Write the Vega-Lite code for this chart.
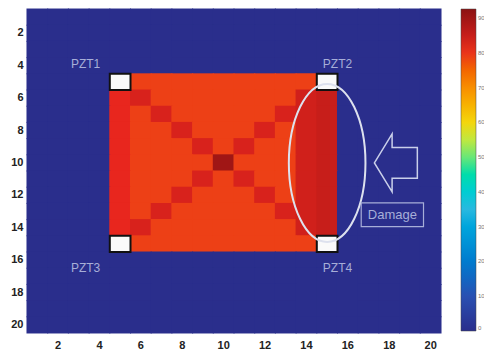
{
  "$schema": "https://vega.github.io/schema/vega-lite/v6.json",
  "width": 414,
  "height": 324,
  "autosize": {"type": "none"},
  "padding": {"left": 27, "top": 9, "right": 43, "bottom": 23},
  "config": {"view": {"stroke": null}},
  "resolve": {"scale": {"x": "independent", "y": "independent"}},
  "layer": [
    {
      "layer": [
        {
          "data": {"values": [
{"c":1,"r":1,"v":0},{"c":2,"r":1,"v":0},{"c":3,"r":1,"v":0},{"c":4,"r":1,"v":0},{"c":5,"r":1,"v":0},{"c":6,"r":1,"v":0},{"c":7,"r":1,"v":0},{"c":8,"r":1,"v":0},{"c":9,"r":1,"v":0},{"c":10,"r":1,"v":0},{"c":11,"r":1,"v":0},{"c":12,"r":1,"v":0},{"c":13,"r":1,"v":0},{"c":14,"r":1,"v":0},{"c":15,"r":1,"v":0},{"c":16,"r":1,"v":0},{"c":17,"r":1,"v":0},{"c":18,"r":1,"v":0},{"c":19,"r":1,"v":0},{"c":20,"r":1,"v":0},
{"c":1,"r":2,"v":0},{"c":2,"r":2,"v":0},{"c":3,"r":2,"v":0},{"c":4,"r":2,"v":0},{"c":5,"r":2,"v":0},{"c":6,"r":2,"v":0},{"c":7,"r":2,"v":0},{"c":8,"r":2,"v":0},{"c":9,"r":2,"v":0},{"c":10,"r":2,"v":0},{"c":11,"r":2,"v":0},{"c":12,"r":2,"v":0},{"c":13,"r":2,"v":0},{"c":14,"r":2,"v":0},{"c":15,"r":2,"v":0},{"c":16,"r":2,"v":0},{"c":17,"r":2,"v":0},{"c":18,"r":2,"v":0},{"c":19,"r":2,"v":0},{"c":20,"r":2,"v":0},
{"c":1,"r":3,"v":0},{"c":2,"r":3,"v":0},{"c":3,"r":3,"v":0},{"c":4,"r":3,"v":0},{"c":5,"r":3,"v":0},{"c":6,"r":3,"v":0},{"c":7,"r":3,"v":0},{"c":8,"r":3,"v":0},{"c":9,"r":3,"v":0},{"c":10,"r":3,"v":0},{"c":11,"r":3,"v":0},{"c":12,"r":3,"v":0},{"c":13,"r":3,"v":0},{"c":14,"r":3,"v":0},{"c":15,"r":3,"v":0},{"c":16,"r":3,"v":0},{"c":17,"r":3,"v":0},{"c":18,"r":3,"v":0},{"c":19,"r":3,"v":0},{"c":20,"r":3,"v":0},
{"c":1,"r":4,"v":0},{"c":2,"r":4,"v":0},{"c":3,"r":4,"v":0},{"c":4,"r":4,"v":0},{"c":5,"r":4,"v":0},{"c":6,"r":4,"v":0},{"c":7,"r":4,"v":0},{"c":8,"r":4,"v":0},{"c":9,"r":4,"v":0},{"c":10,"r":4,"v":0},{"c":11,"r":4,"v":0},{"c":12,"r":4,"v":0},{"c":13,"r":4,"v":0},{"c":14,"r":4,"v":0},{"c":15,"r":4,"v":0},{"c":16,"r":4,"v":0},{"c":17,"r":4,"v":0},{"c":18,"r":4,"v":0},{"c":19,"r":4,"v":0},{"c":20,"r":4,"v":0},
{"c":1,"r":5,"v":0},{"c":2,"r":5,"v":0},{"c":3,"r":5,"v":0},{"c":4,"r":5,"v":0},{"c":5,"r":5,"v":79},{"c":6,"r":5,"v":79},{"c":7,"r":5,"v":79},{"c":8,"r":5,"v":79},{"c":9,"r":5,"v":79},{"c":10,"r":5,"v":79},{"c":11,"r":5,"v":79},{"c":12,"r":5,"v":79},{"c":13,"r":5,"v":79},{"c":14,"r":5,"v":79},{"c":15,"r":5,"v":79},{"c":16,"r":5,"v":0},{"c":17,"r":5,"v":0},{"c":18,"r":5,"v":0},{"c":19,"r":5,"v":0},{"c":20,"r":5,"v":0},
{"c":1,"r":6,"v":0},{"c":2,"r":6,"v":0},{"c":3,"r":6,"v":0},{"c":4,"r":6,"v":0},{"c":5,"r":6,"v":81},{"c":6,"r":6,"v":83},{"c":7,"r":6,"v":79},{"c":8,"r":6,"v":79},{"c":9,"r":6,"v":79},{"c":10,"r":6,"v":79},{"c":11,"r":6,"v":79},{"c":12,"r":6,"v":79},{"c":13,"r":6,"v":79},{"c":14,"r":6,"v":84},{"c":15,"r":6,"v":85},{"c":16,"r":6,"v":0},{"c":17,"r":6,"v":0},{"c":18,"r":6,"v":0},{"c":19,"r":6,"v":0},{"c":20,"r":6,"v":0},
{"c":1,"r":7,"v":0},{"c":2,"r":7,"v":0},{"c":3,"r":7,"v":0},{"c":4,"r":7,"v":0},{"c":5,"r":7,"v":81},{"c":6,"r":7,"v":79},{"c":7,"r":7,"v":83},{"c":8,"r":7,"v":79},{"c":9,"r":7,"v":79},{"c":10,"r":7,"v":79},{"c":11,"r":7,"v":79},{"c":12,"r":7,"v":79},{"c":13,"r":7,"v":83},{"c":14,"r":7,"v":84},{"c":15,"r":7,"v":85},{"c":16,"r":7,"v":0},{"c":17,"r":7,"v":0},{"c":18,"r":7,"v":0},{"c":19,"r":7,"v":0},{"c":20,"r":7,"v":0},
{"c":1,"r":8,"v":0},{"c":2,"r":8,"v":0},{"c":3,"r":8,"v":0},{"c":4,"r":8,"v":0},{"c":5,"r":8,"v":81},{"c":6,"r":8,"v":79},{"c":7,"r":8,"v":79},{"c":8,"r":8,"v":83},{"c":9,"r":8,"v":79},{"c":10,"r":8,"v":79},{"c":11,"r":8,"v":79},{"c":12,"r":8,"v":83},{"c":13,"r":8,"v":79},{"c":14,"r":8,"v":84},{"c":15,"r":8,"v":85},{"c":16,"r":8,"v":0},{"c":17,"r":8,"v":0},{"c":18,"r":8,"v":0},{"c":19,"r":8,"v":0},{"c":20,"r":8,"v":0},
{"c":1,"r":9,"v":0},{"c":2,"r":9,"v":0},{"c":3,"r":9,"v":0},{"c":4,"r":9,"v":0},{"c":5,"r":9,"v":81},{"c":6,"r":9,"v":79},{"c":7,"r":9,"v":79},{"c":8,"r":9,"v":79},{"c":9,"r":9,"v":83},{"c":10,"r":9,"v":79},{"c":11,"r":9,"v":83},{"c":12,"r":9,"v":79},{"c":13,"r":9,"v":79},{"c":14,"r":9,"v":84},{"c":15,"r":9,"v":85},{"c":16,"r":9,"v":0},{"c":17,"r":9,"v":0},{"c":18,"r":9,"v":0},{"c":19,"r":9,"v":0},{"c":20,"r":9,"v":0},
{"c":1,"r":10,"v":0},{"c":2,"r":10,"v":0},{"c":3,"r":10,"v":0},{"c":4,"r":10,"v":0},{"c":5,"r":10,"v":81},{"c":6,"r":10,"v":79},{"c":7,"r":10,"v":79},{"c":8,"r":10,"v":79},{"c":9,"r":10,"v":79},{"c":10,"r":10,"v":90},{"c":11,"r":10,"v":79},{"c":12,"r":10,"v":79},{"c":13,"r":10,"v":79},{"c":14,"r":10,"v":84},{"c":15,"r":10,"v":85},{"c":16,"r":10,"v":0},{"c":17,"r":10,"v":0},{"c":18,"r":10,"v":0},{"c":19,"r":10,"v":0},{"c":20,"r":10,"v":0},
{"c":1,"r":11,"v":0},{"c":2,"r":11,"v":0},{"c":3,"r":11,"v":0},{"c":4,"r":11,"v":0},{"c":5,"r":11,"v":81},{"c":6,"r":11,"v":79},{"c":7,"r":11,"v":79},{"c":8,"r":11,"v":79},{"c":9,"r":11,"v":83},{"c":10,"r":11,"v":79},{"c":11,"r":11,"v":83},{"c":12,"r":11,"v":79},{"c":13,"r":11,"v":79},{"c":14,"r":11,"v":84},{"c":15,"r":11,"v":85},{"c":16,"r":11,"v":0},{"c":17,"r":11,"v":0},{"c":18,"r":11,"v":0},{"c":19,"r":11,"v":0},{"c":20,"r":11,"v":0},
{"c":1,"r":12,"v":0},{"c":2,"r":12,"v":0},{"c":3,"r":12,"v":0},{"c":4,"r":12,"v":0},{"c":5,"r":12,"v":81},{"c":6,"r":12,"v":79},{"c":7,"r":12,"v":79},{"c":8,"r":12,"v":83},{"c":9,"r":12,"v":79},{"c":10,"r":12,"v":79},{"c":11,"r":12,"v":79},{"c":12,"r":12,"v":83},{"c":13,"r":12,"v":79},{"c":14,"r":12,"v":84},{"c":15,"r":12,"v":85},{"c":16,"r":12,"v":0},{"c":17,"r":12,"v":0},{"c":18,"r":12,"v":0},{"c":19,"r":12,"v":0},{"c":20,"r":12,"v":0},
{"c":1,"r":13,"v":0},{"c":2,"r":13,"v":0},{"c":3,"r":13,"v":0},{"c":4,"r":13,"v":0},{"c":5,"r":13,"v":81},{"c":6,"r":13,"v":79},{"c":7,"r":13,"v":83},{"c":8,"r":13,"v":79},{"c":9,"r":13,"v":79},{"c":10,"r":13,"v":79},{"c":11,"r":13,"v":79},{"c":12,"r":13,"v":79},{"c":13,"r":13,"v":83},{"c":14,"r":13,"v":84},{"c":15,"r":13,"v":85},{"c":16,"r":13,"v":0},{"c":17,"r":13,"v":0},{"c":18,"r":13,"v":0},{"c":19,"r":13,"v":0},{"c":20,"r":13,"v":0},
{"c":1,"r":14,"v":0},{"c":2,"r":14,"v":0},{"c":3,"r":14,"v":0},{"c":4,"r":14,"v":0},{"c":5,"r":14,"v":81},{"c":6,"r":14,"v":83},{"c":7,"r":14,"v":79},{"c":8,"r":14,"v":79},{"c":9,"r":14,"v":79},{"c":10,"r":14,"v":79},{"c":11,"r":14,"v":79},{"c":12,"r":14,"v":79},{"c":13,"r":14,"v":79},{"c":14,"r":14,"v":84},{"c":15,"r":14,"v":85},{"c":16,"r":14,"v":0},{"c":17,"r":14,"v":0},{"c":18,"r":14,"v":0},{"c":19,"r":14,"v":0},{"c":20,"r":14,"v":0},
{"c":1,"r":15,"v":0},{"c":2,"r":15,"v":0},{"c":3,"r":15,"v":0},{"c":4,"r":15,"v":0},{"c":5,"r":15,"v":79},{"c":6,"r":15,"v":79},{"c":7,"r":15,"v":79},{"c":8,"r":15,"v":79},{"c":9,"r":15,"v":79},{"c":10,"r":15,"v":79},{"c":11,"r":15,"v":79},{"c":12,"r":15,"v":79},{"c":13,"r":15,"v":79},{"c":14,"r":15,"v":79},{"c":15,"r":15,"v":79},{"c":16,"r":15,"v":0},{"c":17,"r":15,"v":0},{"c":18,"r":15,"v":0},{"c":19,"r":15,"v":0},{"c":20,"r":15,"v":0},
{"c":1,"r":16,"v":0},{"c":2,"r":16,"v":0},{"c":3,"r":16,"v":0},{"c":4,"r":16,"v":0},{"c":5,"r":16,"v":0},{"c":6,"r":16,"v":0},{"c":7,"r":16,"v":0},{"c":8,"r":16,"v":0},{"c":9,"r":16,"v":0},{"c":10,"r":16,"v":0},{"c":11,"r":16,"v":0},{"c":12,"r":16,"v":0},{"c":13,"r":16,"v":0},{"c":14,"r":16,"v":0},{"c":15,"r":16,"v":0},{"c":16,"r":16,"v":0},{"c":17,"r":16,"v":0},{"c":18,"r":16,"v":0},{"c":19,"r":16,"v":0},{"c":20,"r":16,"v":0},
{"c":1,"r":17,"v":0},{"c":2,"r":17,"v":0},{"c":3,"r":17,"v":0},{"c":4,"r":17,"v":0},{"c":5,"r":17,"v":0},{"c":6,"r":17,"v":0},{"c":7,"r":17,"v":0},{"c":8,"r":17,"v":0},{"c":9,"r":17,"v":0},{"c":10,"r":17,"v":0},{"c":11,"r":17,"v":0},{"c":12,"r":17,"v":0},{"c":13,"r":17,"v":0},{"c":14,"r":17,"v":0},{"c":15,"r":17,"v":0},{"c":16,"r":17,"v":0},{"c":17,"r":17,"v":0},{"c":18,"r":17,"v":0},{"c":19,"r":17,"v":0},{"c":20,"r":17,"v":0},
{"c":1,"r":18,"v":0},{"c":2,"r":18,"v":0},{"c":3,"r":18,"v":0},{"c":4,"r":18,"v":0},{"c":5,"r":18,"v":0},{"c":6,"r":18,"v":0},{"c":7,"r":18,"v":0},{"c":8,"r":18,"v":0},{"c":9,"r":18,"v":0},{"c":10,"r":18,"v":0},{"c":11,"r":18,"v":0},{"c":12,"r":18,"v":0},{"c":13,"r":18,"v":0},{"c":14,"r":18,"v":0},{"c":15,"r":18,"v":0},{"c":16,"r":18,"v":0},{"c":17,"r":18,"v":0},{"c":18,"r":18,"v":0},{"c":19,"r":18,"v":0},{"c":20,"r":18,"v":0},
{"c":1,"r":19,"v":0},{"c":2,"r":19,"v":0},{"c":3,"r":19,"v":0},{"c":4,"r":19,"v":0},{"c":5,"r":19,"v":0},{"c":6,"r":19,"v":0},{"c":7,"r":19,"v":0},{"c":8,"r":19,"v":0},{"c":9,"r":19,"v":0},{"c":10,"r":19,"v":0},{"c":11,"r":19,"v":0},{"c":12,"r":19,"v":0},{"c":13,"r":19,"v":0},{"c":14,"r":19,"v":0},{"c":15,"r":19,"v":0},{"c":16,"r":19,"v":0},{"c":17,"r":19,"v":0},{"c":18,"r":19,"v":0},{"c":19,"r":19,"v":0},{"c":20,"r":19,"v":0},
{"c":1,"r":20,"v":0},{"c":2,"r":20,"v":0},{"c":3,"r":20,"v":0},{"c":4,"r":20,"v":0},{"c":5,"r":20,"v":0},{"c":6,"r":20,"v":0},{"c":7,"r":20,"v":0},{"c":8,"r":20,"v":0},{"c":9,"r":20,"v":0},{"c":10,"r":20,"v":0},{"c":11,"r":20,"v":0},{"c":12,"r":20,"v":0},{"c":13,"r":20,"v":0},{"c":14,"r":20,"v":0},{"c":15,"r":20,"v":0},{"c":16,"r":20,"v":0},{"c":17,"r":20,"v":0},{"c":18,"r":20,"v":0},{"c":19,"r":20,"v":0},{"c":20,"r":20,"v":0}
          ]},
          "mark": {"type": "rect", "width": {"band": 1.05}, "height": {"band": 1.06}},
          "encoding": {
            "x": {"field": "c", "type": "ordinal",
              "scale": {"domain": [1,2,3,4,5,6,7,8,9,10,11,12,13,14,15,16,17,18,19,20], "paddingInner": 0, "paddingOuter": 0},
              "axis": {"values": [2,4,6,8,10,12,14,16,18,20], "labelAngle": 0, "title": null, "ticks": false, "domain": false, "grid": false,
                "labelFont": "Liberation Sans", "labelFontWeight": "bold", "labelFontSize": 11, "labelColor": "#222222", "labelPadding": 6}},
            "y": {"field": "r", "type": "ordinal",
              "scale": {"domain": [1,2,3,4,5,6,7,8,9,10,11,12,13,14,15,16,17,18,19,20], "paddingInner": 0, "paddingOuter": 0},
              "axis": {"values": [2,4,6,8,10,12,14,16,18,20], "title": null, "ticks": false, "domain": false, "grid": false,
                "labelFont": "Liberation Sans", "labelFontWeight": "bold", "labelFontSize": 11, "labelColor": "#222222", "labelPadding": 4}},
            "color": {"field": "v", "type": "quantitative",
              "scale": {"type": "linear", "domain": [0, 11.6, 34.7, 57.9, 81, 92.6],
                "range": ["#2a2e8c", "#2856b8", "#2fb8e0", "#f2e424", "#e8261e", "#8c1212"]},
              "legend": {"type": "gradient", "orient": "right", "offset": 20, "padding": 0, "direction": "vertical", "title": null,
                "gradientLength": 322, "gradientThickness": 15, "values": [0,10,20,30,40,50,60,70,80,90],
                "labelFontSize": 6, "labelColor": "#777777", "labelOffset": 2, "labelFont": "Liberation Sans",
                "gradientStrokeColor": "#444444", "gradientStrokeWidth": 0.5}}
          }
        },
        {
          "data": {"values": [{"c":5,"r":5},{"c":15,"r":5},{"c":5,"r":15},{"c":15,"r":15}]},
          "mark": {"type": "rect", "fill": "#fafafa", "stroke": "#111111", "strokeWidth": 2},
          "encoding": {
            "x": {"field": "c", "type": "ordinal"},
            "y": {"field": "r", "type": "ordinal"}
          }
        }
      ]
    },
    {
      "encoding": {
        "x": {"field": "x", "type": "quantitative", "scale": {"domain": [0.5, 20.5], "nice": false, "zero": false}, "axis": null},
        "y": {"field": "y", "type": "quantitative", "scale": {"domain": [0.5, 20.5], "nice": false, "zero": false, "reverse": true}, "axis": null}
      },
      "layer": [
        {
          "data": {"values": [
            {"label": "PZT1", "x": 3.33, "y": 3.9},
            {"label": "PZT2", "x": 15.5, "y": 3.9},
            {"label": "PZT3", "x": 3.33, "y": 16.5},
            {"label": "PZT4", "x": 15.5, "y": 16.5}
          ]},
          "mark": {"type": "text", "font": "Liberation Sans", "fontSize": 12, "color": "#a7aed8", "baseline": "middle", "align": "center"},
          "encoding": {"text": {"field": "label"}}
        },
        {
          "data": {"values": [{"x": 15, "y": 10}]},
          "mark": {"type": "point", "shape": "M -0.485,0 A 0.485,1 0 1,0 0.485,0 A 0.485,1 0 1,0 -0.485,0 Z",
            "size": 24964, "filled": false, "color": "#dde1ee", "strokeWidth": 2, "opacity": 1}
        },
        {
          "data": {"values": [{"x": 18.32, "y": 10}]},
          "mark": {"type": "point", "shape": "M -0.74,0 L -0.13,-1 L -0.13,-0.53 L 0.74,-0.53 L 0.74,0.53 L -0.13,0.53 L -0.13,1 Z",
            "size": 3364, "filled": false, "color": "#c9cfea", "strokeWidth": 1.5, "opacity": 1}
        },
        {
          "data": {"values": [{"x": 18.15, "y": 13.2, "label": "Damage"}]},
          "layer": [
            {
              "mark": {"type": "point", "shape": "M -1,-0.38 L 1,-0.38 L 1,0.38 L -1,0.38 Z",
                "size": 3881, "filled": false, "color": "#a7aed8", "strokeWidth": 1.2, "opacity": 1}
            },
            {
              "mark": {"type": "text", "font": "Liberation Sans", "fontSize": 13, "color": "#a7aed8", "baseline": "middle", "align": "center"},
              "encoding": {"text": {"field": "label"}}
            }
          ]
        }
      ]
    }
  ]
}
